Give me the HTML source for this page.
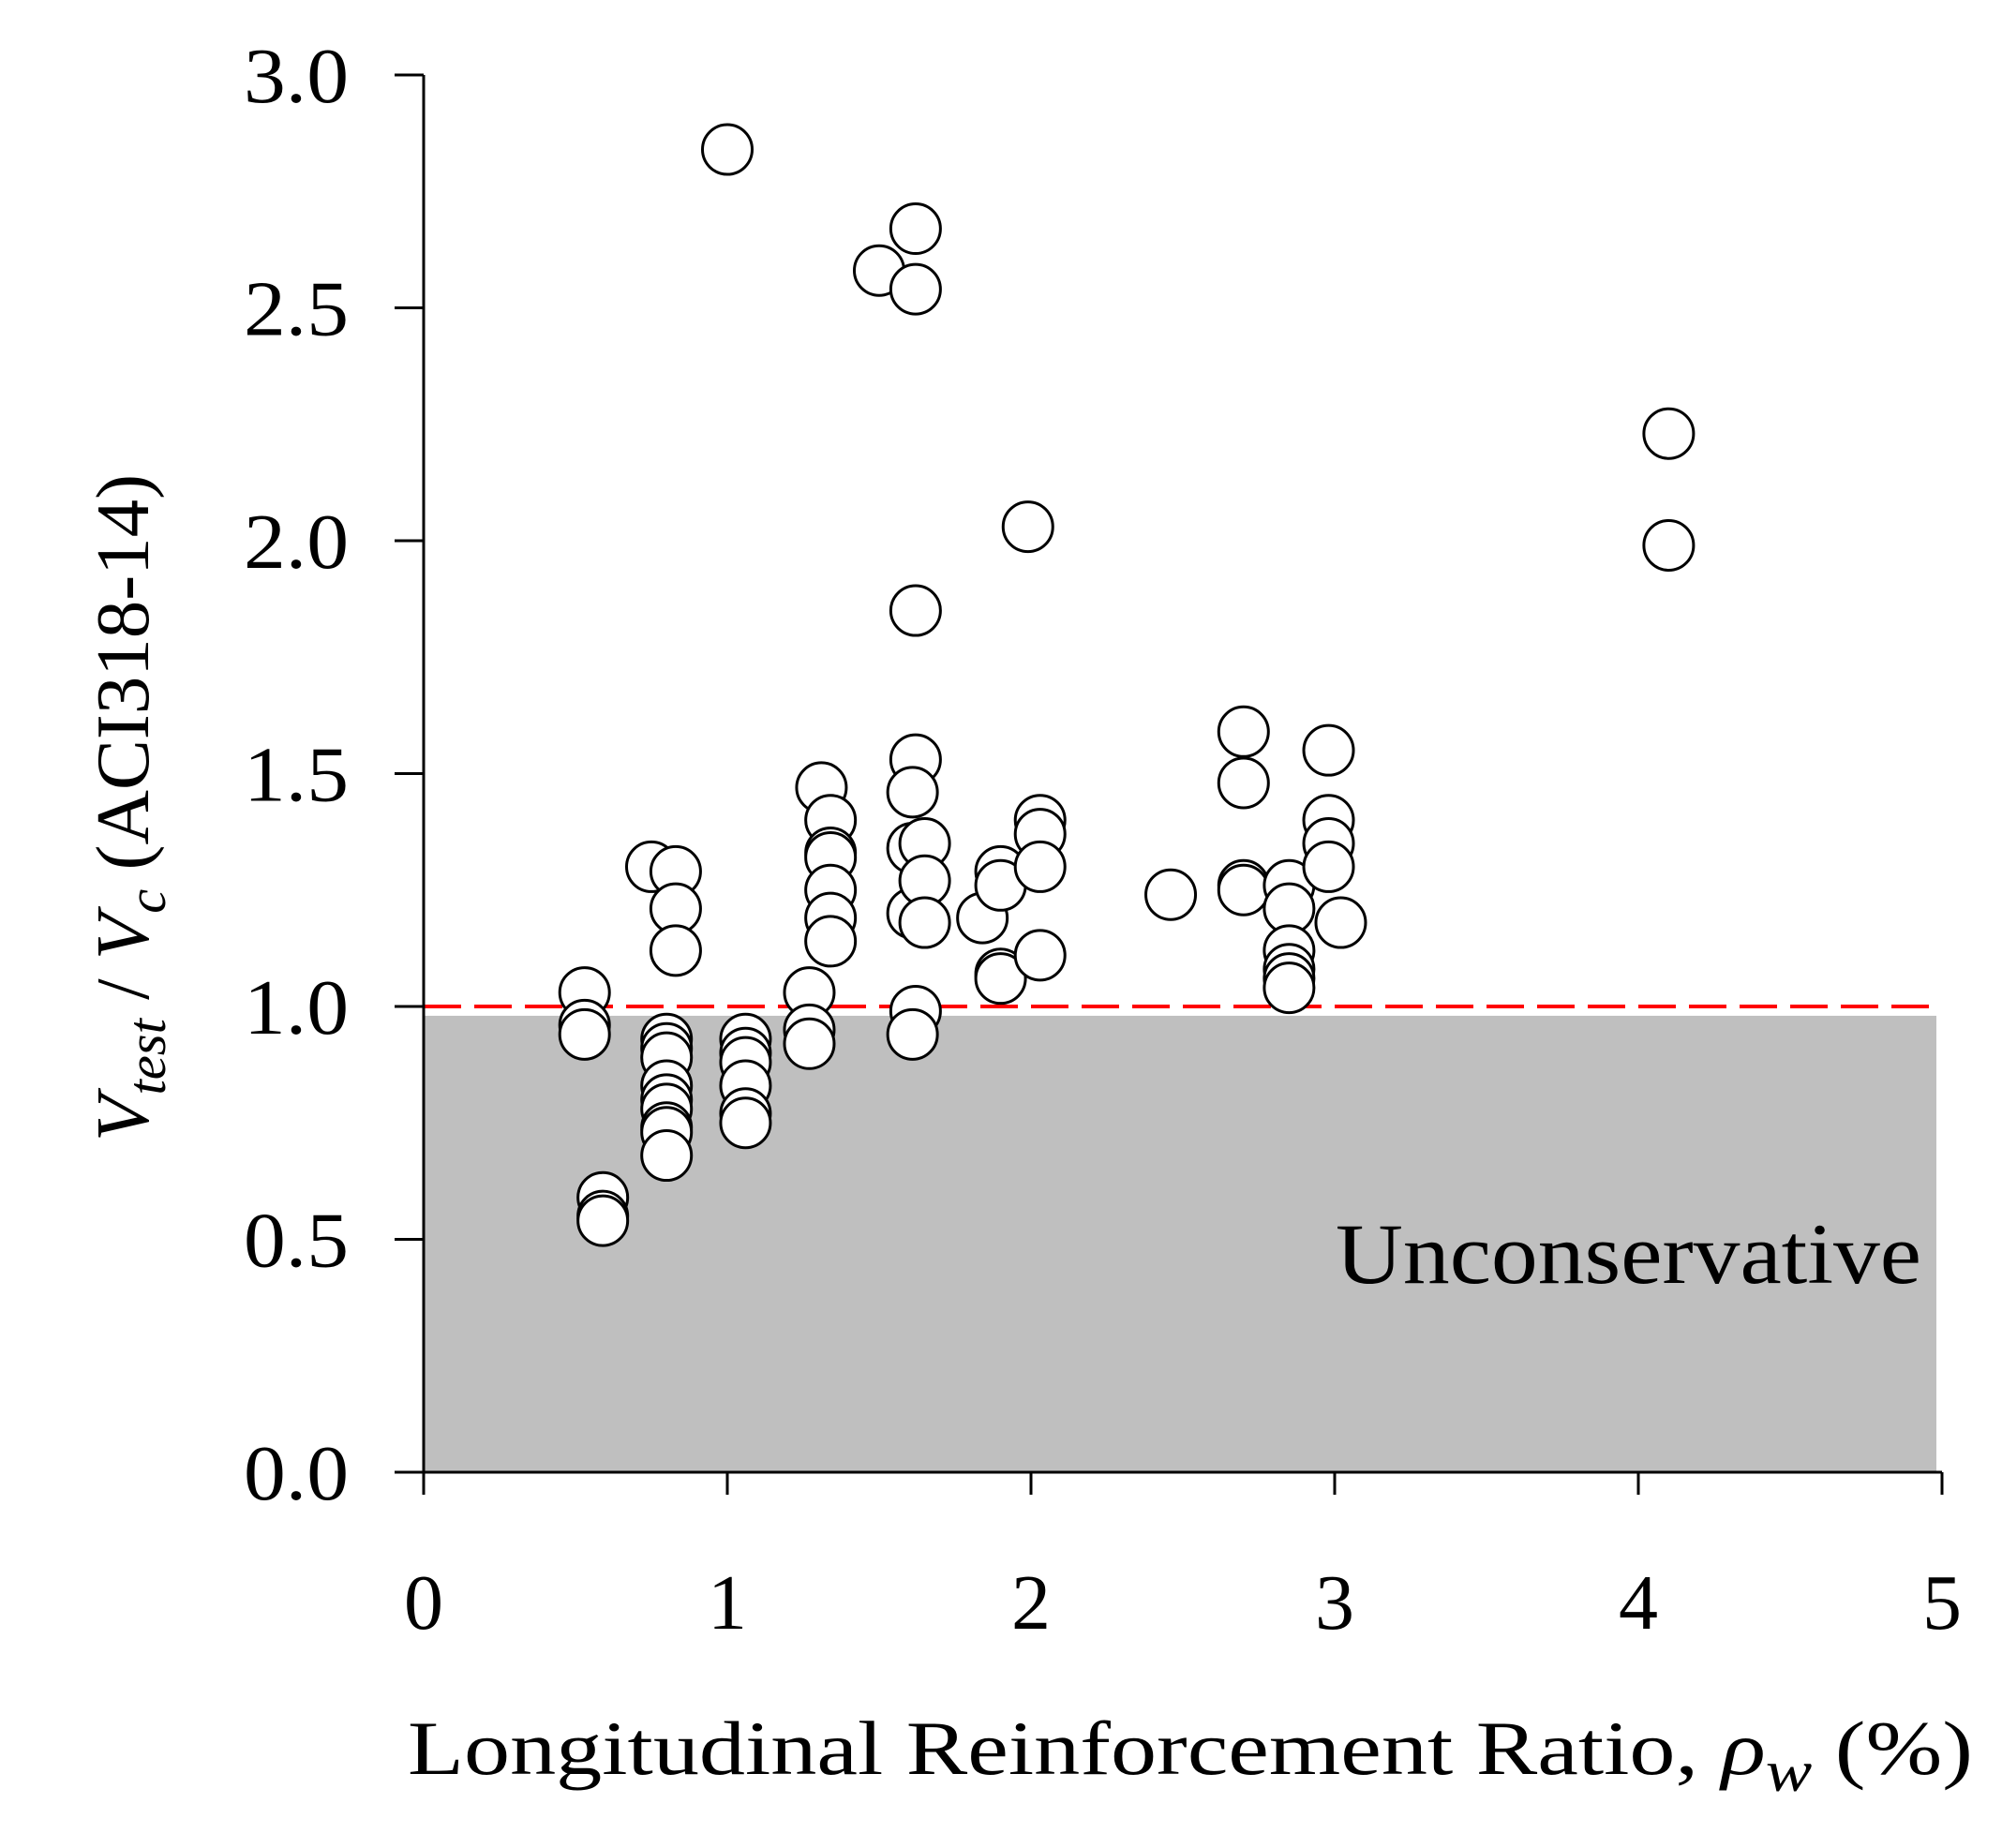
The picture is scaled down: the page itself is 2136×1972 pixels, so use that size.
<!DOCTYPE html>
<html><head><meta charset="utf-8"><style>html,body{margin:0;padding:0;background:#fff}svg{display:block}</style></head>
<body>
<svg id="chart" width="2136" height="1972" viewBox="0 0 2136 1972" xmlns="http://www.w3.org/2000/svg" font-family="'Liberation Serif', serif">
<g id="g"></g>
</svg>
<script>
const xValues = [0.53,0.53,0.53,0.59,0.59,0.59,0.75,0.8,0.8,0.8,0.8,0.8,0.8,0.8,0.8,0.8,0.83,0.83,0.83,1.0,1.06,1.06,1.06,1.06,1.06,1.06,1.27,1.27,1.27,1.31,1.34,1.34,1.34,1.34,1.34,1.34,1.5,1.62,1.62,1.62,1.62,1.61,1.61,1.61,1.62,1.61,1.65,1.65,1.65,1.84,1.9,1.9,1.9,1.9,1.99,2.03,2.03,2.03,2.03,2.46,2.7,2.7,2.7,2.7,2.85,2.85,2.85,2.85,2.85,2.85,2.98,2.98,2.98,2.98,3.02,4.1,4.1];
const yValues = [1.03,0.96,0.94,0.59,0.55,0.54,1.30,0.93,0.91,0.89,0.83,0.80,0.78,0.74,0.73,0.68,1.29,1.21,1.12,2.84,0.93,0.90,0.88,0.83,0.77,0.75,1.03,0.95,0.92,1.47,1.40,1.33,1.32,1.25,1.19,1.14,2.58,2.67,2.54,1.85,1.53,1.46,1.34,1.20,0.99,0.94,1.35,1.27,1.18,1.19,1.29,1.26,1.07,1.06,2.03,1.40,1.37,1.30,1.11,1.24,1.59,1.48,1.26,1.25,1.26,1.21,1.12,1.08,1.06,1.04,1.55,1.40,1.35,1.30,1.18,2.23,1.99];
const xTicks = [0,1,2,3,4,5];
const yTicks = [0,0.5,1,1.5,2,2.5,3];
const yTickLabels = ["0.0","0.5","1.0","1.5","2.0","2.5","3.0"];
const refLine = 1.0;
const shadeTop = 0.98;

const X0=452, XU=324, Y0=1571, YU=497;
const sx = v => X0 + v*XU;
const sy = v => Y0 - v*YU;
const NS="http://www.w3.org/2000/svg";
const g=document.getElementById('g');
function mk(tag, attrs, parent){const e=document.createElementNS(NS,tag);for(const k in attrs)e.setAttribute(k,attrs[k]);(parent||g).appendChild(e);return e;}

let e=mk('rect',{x:sx(0),y:sy(shadeTop),width:sx(5)-sx(0)-6,height:sy(0)-sy(shadeTop),fill:'#bfbfbf'});


e=mk('line',{x1:sx(0),x2:sx(5),y1:sy(refLine),y2:sy(refLine),stroke:'#ff0000','stroke-width':4,'stroke-dasharray':'40 14'});


e=mk('text',{x:1425,y:1369,'font-size':92,textLength:625,lengthAdjust:'spacingAndGlyphs',fill:'#000'});
e.textContent='Unconservative';



// axes
e=mk('line',{x1:sx(0),x2:sx(0),y1:sy(3),y2:sy(0)+1.5,stroke:'#000','stroke-width':3});


e=mk('line',{x1:sx(0),x2:sx(5),y1:sy(0),y2:sy(0),stroke:'#000','stroke-width':3});



yTicks.forEach((t,i)=>{
  const l=mk('line',{x1:sx(0)-31,x2:sx(0),y1:sy(t),y2:sy(t),stroke:'#000','stroke-width':3});
  
  
  const tx=mk('text',{x:372,y:sy(t)+29,'font-size':84,'text-anchor':'end',textLength:112,lengthAdjust:'spacingAndGlyphs'});
  tx.textContent=yTickLabels[i];
  
  
});
xTicks.forEach(t=>{
  const l=mk('line',{x1:sx(t),x2:sx(t),y1:sy(0),y2:sy(0)+24,stroke:'#000','stroke-width':3});
  
  
  const tx=mk('text',{x:sx(t),y:1738,'font-size':84,'text-anchor':'middle'});
  tx.textContent=String(t);
  
  
});

xValues.forEach((xv,i)=>{
  const c=mk('circle',{cx:sx(xv),cy:sy(yValues[i]),r:26.5,fill:'#fff',stroke:'#000','stroke-width':3});
  
  
});

// titles
e=mk('text',{x:435,y:1893,'font-size':82,textLength:1670,lengthAdjust:'spacingAndGlyphs'});
e.innerHTML='Longitudinal Reinforcement Ratio, <tspan font-style="italic">ρ</tspan><tspan font-style="italic" font-size="62" dy="18">w</tspan><tspan dy="-18"> (%)</tspan>';


e=mk('text',{x:0,y:0,'font-size':80,'text-anchor':'middle',textLength:712,lengthAdjust:'spacingAndGlyphs',transform:'translate(158,862) rotate(-90)'});
e.innerHTML='<tspan font-style="italic">V</tspan><tspan font-style="italic" font-size="58" dy="18">test</tspan><tspan dy="-18"> / </tspan><tspan font-style="italic">V</tspan><tspan font-style="italic" font-size="58" dy="18">c</tspan><tspan dy="-18"> (ACI318-14)</tspan>';


</script>
</body></html>
